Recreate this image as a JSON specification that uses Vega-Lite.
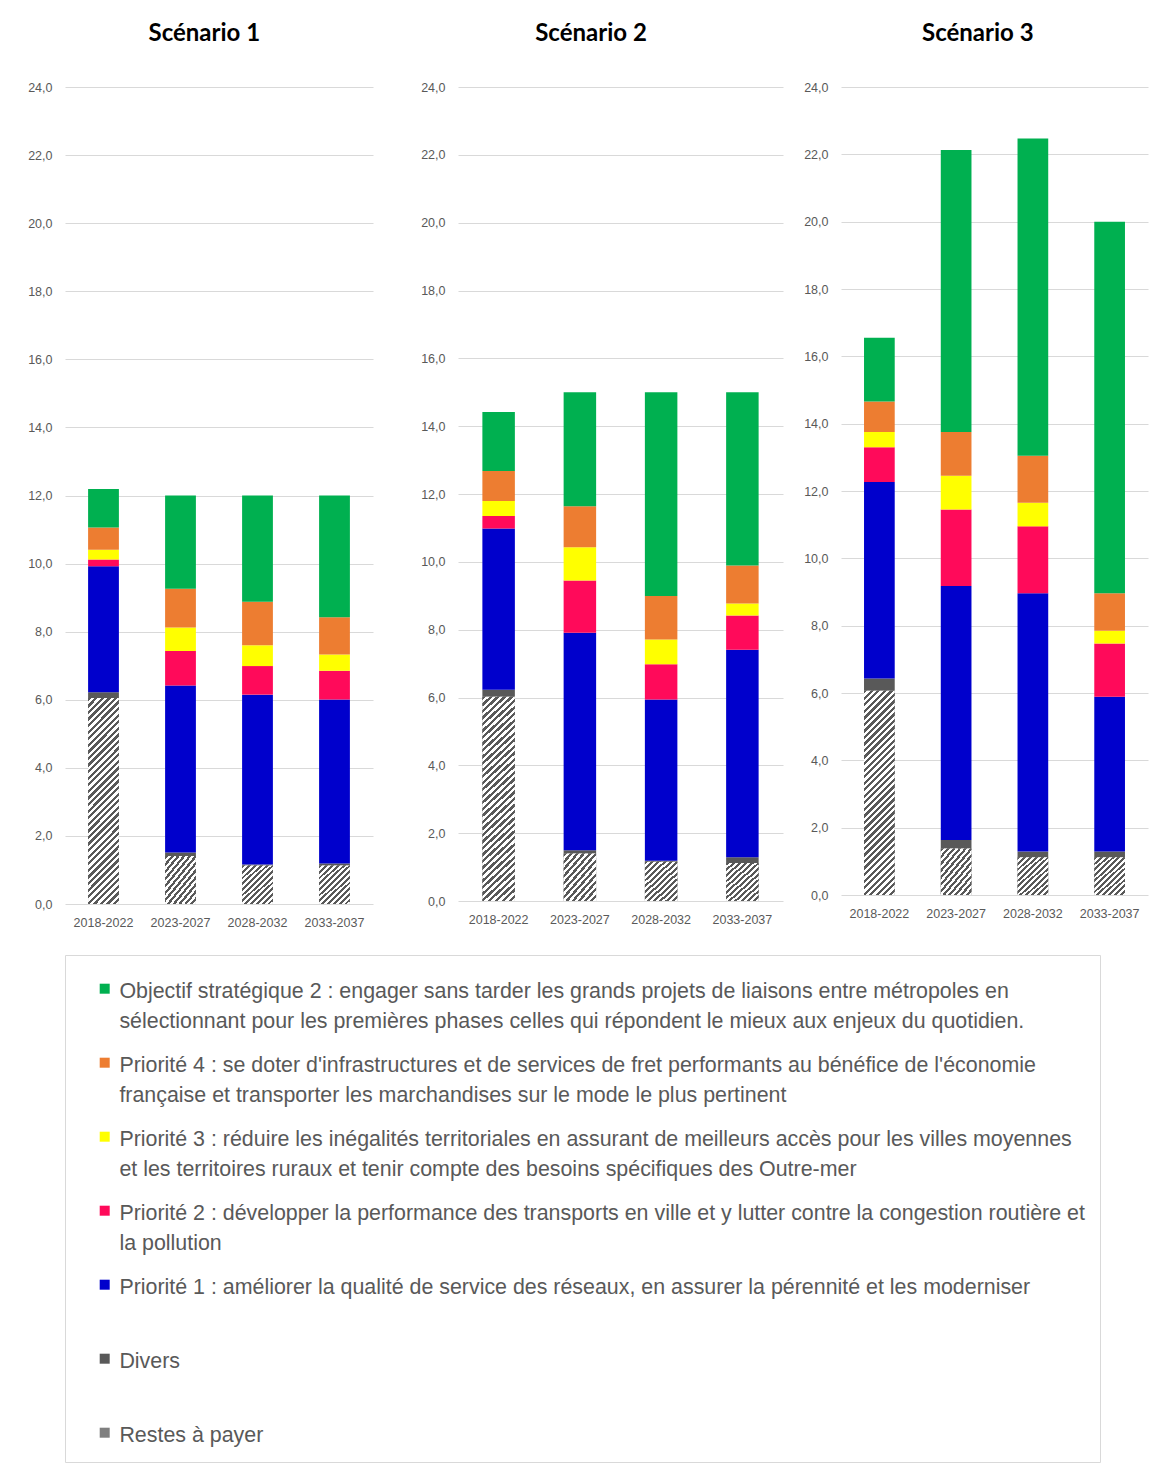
{
  "$schema": "https://vega.github.io/schema/vega-lite/v6.json",
  "background": "#ffffff",
  "padding": {"left": 27, "top": 22, "right": 5, "bottom": 0},
  "params": [
    {"name": "hatchTall", "value": {"gradient": "linear", "x1": 0, "y1": 0, "x2": 0.169, "y2": 1.125, "stops": [
        {"offset": 0, "color": "#595959"}, {"offset": 0.0139, "color": "#595959"}, {"offset": 0.0139, "color": "#ffffff"}, {"offset": 0.0278, "color": "#ffffff"},
        {"offset": 0.0278, "color": "#595959"}, {"offset": 0.0417, "color": "#595959"}, {"offset": 0.0417, "color": "#ffffff"}, {"offset": 0.0556, "color": "#ffffff"},
        {"offset": 0.0556, "color": "#595959"}, {"offset": 0.0694, "color": "#595959"}, {"offset": 0.0694, "color": "#ffffff"}, {"offset": 0.0833, "color": "#ffffff"},
        {"offset": 0.0833, "color": "#595959"}, {"offset": 0.0972, "color": "#595959"}, {"offset": 0.0972, "color": "#ffffff"}, {"offset": 0.1111, "color": "#ffffff"},
        {"offset": 0.1111, "color": "#595959"}, {"offset": 0.125, "color": "#595959"}, {"offset": 0.125, "color": "#ffffff"}, {"offset": 0.1389, "color": "#ffffff"},
        {"offset": 0.1389, "color": "#595959"}, {"offset": 0.1528, "color": "#595959"}, {"offset": 0.1528, "color": "#ffffff"}, {"offset": 0.1667, "color": "#ffffff"},
        {"offset": 0.1667, "color": "#595959"}, {"offset": 0.1806, "color": "#595959"}, {"offset": 0.1806, "color": "#ffffff"}, {"offset": 0.1944, "color": "#ffffff"},
        {"offset": 0.1944, "color": "#595959"}, {"offset": 0.2083, "color": "#595959"}, {"offset": 0.2083, "color": "#ffffff"}, {"offset": 0.2222, "color": "#ffffff"},
        {"offset": 0.2222, "color": "#595959"}, {"offset": 0.2361, "color": "#595959"}, {"offset": 0.2361, "color": "#ffffff"}, {"offset": 0.25, "color": "#ffffff"},
        {"offset": 0.25, "color": "#595959"}, {"offset": 0.2639, "color": "#595959"}, {"offset": 0.2639, "color": "#ffffff"}, {"offset": 0.2778, "color": "#ffffff"},
        {"offset": 0.2778, "color": "#595959"}, {"offset": 0.2917, "color": "#595959"}, {"offset": 0.2917, "color": "#ffffff"}, {"offset": 0.3056, "color": "#ffffff"},
        {"offset": 0.3056, "color": "#595959"}, {"offset": 0.3194, "color": "#595959"}, {"offset": 0.3194, "color": "#ffffff"}, {"offset": 0.3333, "color": "#ffffff"},
        {"offset": 0.3333, "color": "#595959"}, {"offset": 0.3472, "color": "#595959"}, {"offset": 0.3472, "color": "#ffffff"}, {"offset": 0.3611, "color": "#ffffff"},
        {"offset": 0.3611, "color": "#595959"}, {"offset": 0.375, "color": "#595959"}, {"offset": 0.375, "color": "#ffffff"}, {"offset": 0.3889, "color": "#ffffff"},
        {"offset": 0.3889, "color": "#595959"}, {"offset": 0.4028, "color": "#595959"}, {"offset": 0.4028, "color": "#ffffff"}, {"offset": 0.4167, "color": "#ffffff"},
        {"offset": 0.4167, "color": "#595959"}, {"offset": 0.4306, "color": "#595959"}, {"offset": 0.4306, "color": "#ffffff"}, {"offset": 0.4444, "color": "#ffffff"},
        {"offset": 0.4444, "color": "#595959"}, {"offset": 0.4583, "color": "#595959"}, {"offset": 0.4583, "color": "#ffffff"}, {"offset": 0.4722, "color": "#ffffff"},
        {"offset": 0.4722, "color": "#595959"}, {"offset": 0.4861, "color": "#595959"}, {"offset": 0.4861, "color": "#ffffff"}, {"offset": 0.5, "color": "#ffffff"},
        {"offset": 0.5, "color": "#595959"}, {"offset": 0.5139, "color": "#595959"}, {"offset": 0.5139, "color": "#ffffff"}, {"offset": 0.5278, "color": "#ffffff"},
        {"offset": 0.5278, "color": "#595959"}, {"offset": 0.5417, "color": "#595959"}, {"offset": 0.5417, "color": "#ffffff"}, {"offset": 0.5556, "color": "#ffffff"},
        {"offset": 0.5556, "color": "#595959"}, {"offset": 0.5694, "color": "#595959"}, {"offset": 0.5694, "color": "#ffffff"}, {"offset": 0.5833, "color": "#ffffff"},
        {"offset": 0.5833, "color": "#595959"}, {"offset": 0.5972, "color": "#595959"}, {"offset": 0.5972, "color": "#ffffff"}, {"offset": 0.6111, "color": "#ffffff"},
        {"offset": 0.6111, "color": "#595959"}, {"offset": 0.625, "color": "#595959"}, {"offset": 0.625, "color": "#ffffff"}, {"offset": 0.6389, "color": "#ffffff"},
        {"offset": 0.6389, "color": "#595959"}, {"offset": 0.6528, "color": "#595959"}, {"offset": 0.6528, "color": "#ffffff"}, {"offset": 0.6667, "color": "#ffffff"},
        {"offset": 0.6667, "color": "#595959"}, {"offset": 0.6806, "color": "#595959"}, {"offset": 0.6806, "color": "#ffffff"}, {"offset": 0.6944, "color": "#ffffff"},
        {"offset": 0.6944, "color": "#595959"}, {"offset": 0.7083, "color": "#595959"}, {"offset": 0.7083, "color": "#ffffff"}, {"offset": 0.7222, "color": "#ffffff"},
        {"offset": 0.7222, "color": "#595959"}, {"offset": 0.7361, "color": "#595959"}, {"offset": 0.7361, "color": "#ffffff"}, {"offset": 0.75, "color": "#ffffff"},
        {"offset": 0.75, "color": "#595959"}, {"offset": 0.7639, "color": "#595959"}, {"offset": 0.7639, "color": "#ffffff"}, {"offset": 0.7778, "color": "#ffffff"},
        {"offset": 0.7778, "color": "#595959"}, {"offset": 0.7917, "color": "#595959"}, {"offset": 0.7917, "color": "#ffffff"}, {"offset": 0.8056, "color": "#ffffff"},
        {"offset": 0.8056, "color": "#595959"}, {"offset": 0.8194, "color": "#595959"}, {"offset": 0.8194, "color": "#ffffff"}, {"offset": 0.8333, "color": "#ffffff"},
        {"offset": 0.8333, "color": "#595959"}, {"offset": 0.8472, "color": "#595959"}, {"offset": 0.8472, "color": "#ffffff"}, {"offset": 0.8611, "color": "#ffffff"},
        {"offset": 0.8611, "color": "#595959"}, {"offset": 0.875, "color": "#595959"}, {"offset": 0.875, "color": "#ffffff"}, {"offset": 0.8889, "color": "#ffffff"},
        {"offset": 0.8889, "color": "#595959"}, {"offset": 0.9028, "color": "#595959"}, {"offset": 0.9028, "color": "#ffffff"}, {"offset": 0.9167, "color": "#ffffff"},
        {"offset": 0.9167, "color": "#595959"}, {"offset": 0.9306, "color": "#595959"}, {"offset": 0.9306, "color": "#ffffff"}, {"offset": 0.9444, "color": "#ffffff"},
        {"offset": 0.9444, "color": "#595959"}, {"offset": 0.9583, "color": "#595959"}, {"offset": 0.9583, "color": "#ffffff"}, {"offset": 0.9722, "color": "#ffffff"},
        {"offset": 0.9722, "color": "#595959"}, {"offset": 0.9861, "color": "#595959"}, {"offset": 0.9861, "color": "#ffffff"}, {"offset": 1, "color": "#ffffff"}
    ]}},
    {"name": "hatchShort", "value": {"gradient": "linear", "x1": 0, "y1": 0, "x2": 0.859, "y2": 1.109, "stops": [
        {"offset": 0, "color": "#595959"}, {"offset": 0.0417, "color": "#595959"}, {"offset": 0.0417, "color": "#ffffff"}, {"offset": 0.0833, "color": "#ffffff"},
        {"offset": 0.0833, "color": "#595959"}, {"offset": 0.125, "color": "#595959"}, {"offset": 0.125, "color": "#ffffff"}, {"offset": 0.1667, "color": "#ffffff"},
        {"offset": 0.1667, "color": "#595959"}, {"offset": 0.2083, "color": "#595959"}, {"offset": 0.2083, "color": "#ffffff"}, {"offset": 0.25, "color": "#ffffff"},
        {"offset": 0.25, "color": "#595959"}, {"offset": 0.2917, "color": "#595959"}, {"offset": 0.2917, "color": "#ffffff"}, {"offset": 0.3333, "color": "#ffffff"},
        {"offset": 0.3333, "color": "#595959"}, {"offset": 0.375, "color": "#595959"}, {"offset": 0.375, "color": "#ffffff"}, {"offset": 0.4167, "color": "#ffffff"},
        {"offset": 0.4167, "color": "#595959"}, {"offset": 0.4583, "color": "#595959"}, {"offset": 0.4583, "color": "#ffffff"}, {"offset": 0.5, "color": "#ffffff"},
        {"offset": 0.5, "color": "#595959"}, {"offset": 0.5417, "color": "#595959"}, {"offset": 0.5417, "color": "#ffffff"}, {"offset": 0.5833, "color": "#ffffff"},
        {"offset": 0.5833, "color": "#595959"}, {"offset": 0.625, "color": "#595959"}, {"offset": 0.625, "color": "#ffffff"}, {"offset": 0.6667, "color": "#ffffff"},
        {"offset": 0.6667, "color": "#595959"}, {"offset": 0.7083, "color": "#595959"}, {"offset": 0.7083, "color": "#ffffff"}, {"offset": 0.75, "color": "#ffffff"},
        {"offset": 0.75, "color": "#595959"}, {"offset": 0.7917, "color": "#595959"}, {"offset": 0.7917, "color": "#ffffff"}, {"offset": 0.8333, "color": "#ffffff"},
        {"offset": 0.8333, "color": "#595959"}, {"offset": 0.875, "color": "#595959"}, {"offset": 0.875, "color": "#ffffff"}, {"offset": 0.9167, "color": "#ffffff"},
        {"offset": 0.9167, "color": "#595959"}, {"offset": 0.9583, "color": "#595959"}, {"offset": 0.9583, "color": "#ffffff"}, {"offset": 1, "color": "#ffffff"}
    ]}}
  ],
  "datasets": {
    "ordre": [
      {"categorie": "Restes à payer", "rang": 1},
      {"categorie": "Divers", "rang": 2},
      {"categorie": "Priorité 1", "rang": 3},
      {"categorie": "Priorité 2", "rang": 4},
      {"categorie": "Priorité 3", "rang": 5},
      {"categorie": "Priorité 4", "rang": 6},
      {"categorie": "Objectif stratégique 2", "rang": 7}
    ]
  },
  "data": {"values": [
    {"scenario": "Scénario 1", "periode": "2018-2022", "Restes à payer": 6.05, "Divers": 0.17, "Priorité 1": 3.70, "Priorité 2": 0.20, "Priorité 3": 0.29, "Priorité 4": 0.65, "Objectif stratégique 2": 1.13},
    {"scenario": "Scénario 1", "periode": "2023-2027", "Restes à payer": 1.41, "Divers": 0.10, "Priorité 1": 4.91, "Priorité 2": 1.01, "Priorité 3": 0.69, "Priorité 4": 1.14, "Objectif stratégique 2": 2.74},
    {"scenario": "Scénario 1", "periode": "2028-2032", "Restes à payer": 1.13, "Divers": 0.03, "Priorité 1": 4.99, "Priorité 2": 0.84, "Priorité 3": 0.61, "Priorité 4": 1.28, "Objectif stratégique 2": 3.12},
    {"scenario": "Scénario 1", "periode": "2033-2037", "Restes à payer": 1.13, "Divers": 0.06, "Priorité 1": 4.82, "Priorité 2": 0.84, "Priorité 3": 0.48, "Priorité 4": 1.09, "Objectif stratégique 2": 3.58},
    {"scenario": "Scénario 2", "periode": "2018-2022", "Restes à payer": 6.02, "Divers": 0.21, "Priorité 1": 4.75, "Priorité 2": 0.37, "Priorité 3": 0.44, "Priorité 4": 0.89, "Objectif stratégique 2": 1.74},
    {"scenario": "Scénario 2", "periode": "2023-2027", "Restes à payer": 1.40, "Divers": 0.10, "Priorité 1": 6.41, "Priorité 2": 1.54, "Priorité 3": 0.98, "Priorité 4": 1.21, "Objectif stratégique 2": 3.36},
    {"scenario": "Scénario 2", "periode": "2028-2032", "Restes à payer": 1.16, "Divers": 0.03, "Priorité 1": 4.75, "Priorité 2": 1.04, "Priorité 3": 0.73, "Priorité 4": 1.28, "Objectif stratégique 2": 6.01},
    {"scenario": "Scénario 2", "periode": "2033-2037", "Restes à payer": 1.12, "Divers": 0.17, "Priorité 1": 6.12, "Priorité 2": 1.01, "Priorité 3": 0.35, "Priorité 4": 1.12, "Objectif stratégique 2": 5.11},
    {"scenario": "Scénario 3", "periode": "2018-2022", "Restes à payer": 6.07, "Divers": 0.36, "Priorité 1": 5.84, "Priorité 2": 1.03, "Priorité 3": 0.45, "Priorité 4": 0.91, "Objectif stratégique 2": 1.89},
    {"scenario": "Scénario 3", "periode": "2023-2027", "Restes à payer": 1.38, "Divers": 0.25, "Priorité 1": 7.55, "Priorité 2": 2.27, "Priorité 3": 1.00, "Priorité 4": 1.30, "Objectif stratégique 2": 8.38},
    {"scenario": "Scénario 3", "periode": "2028-2032", "Restes à payer": 1.12, "Divers": 0.17, "Priorité 1": 7.67, "Priorité 2": 1.99, "Priorité 3": 0.70, "Priorité 4": 1.40, "Objectif stratégique 2": 9.42},
    {"scenario": "Scénario 3", "periode": "2033-2037", "Restes à payer": 1.12, "Divers": 0.17, "Priorité 1": 4.60, "Priorité 2": 1.58, "Priorité 3": 0.38, "Priorité 4": 1.11, "Objectif stratégique 2": 11.04}
  ]},
  "transform": [
    {"fold": ["Restes à payer", "Divers", "Priorité 1", "Priorité 2", "Priorité 3", "Priorité 4", "Objectif stratégique 2"], "as": ["categorie", "valeur"]},
    {"lookup": "categorie", "from": {"data": {"name": "ordre"}, "key": "categorie", "fields": ["rang"]}}
  ],
  "spacing": 20,
  "hconcat": [
    {
      "width": 308, "height": 817,
      "title": {"text": "Scénario 1", "dx": 4},
      "transform": [{"filter": "datum.scenario == 'Scénario 1'"}],
      "layer": [
        {
          "mark": {"type": "bar"},
          "encoding": {
            "x": {"field": "periode", "type": "nominal", "title": null, "scale": {"paddingInner": 0.6, "paddingOuter": 0.3}, "axis": {"labelAngle": 0, "domain": false, "ticks": false, "tickSize": 0, "labelPadding": 12, "grid": false}},
            "y": {"field": "valeur", "type": "quantitative", "title": null, "scale": {"domain": [0, 24], "nice": false}, "axis": {"values": [0, 2, 4, 6, 8, 10, 12, 14, 16, 18, 20, 22, 24], "labelExpr": "replace(format(datum.value, '.1f'), '.', ',')", "domain": false, "ticks": false, "tickSize": 0, "labelPadding": 13}},
            "order": {"field": "rang", "type": "quantitative", "sort": "ascending"},
            "color": {"field": "categorie", "type": "nominal",
              "scale": {"domain": ["Objectif stratégique 2", "Priorité 4", "Priorité 3", "Priorité 2", "Priorité 1", "Divers", "Restes à payer"], "range": ["#00b050", "#ed7d31", "#ffff00", "#ff0a5a", "#0000cc", "#595959", "#7f7f7f"]},
              "legend": {"orient": "bottom", "direction": "vertical", "columns": 1, "gridAlign": "all", "title": null, "offset": 26, "padding": 15, "strokeColor": "#d9d9d9", "fillColor": "#ffffff", "symbolOffset": 14, "symbolType": "M-1,0.6H1V2.6H-1Z", "symbolSize": 100, "symbolStrokeWidth": 0, "labelOffset": 4, "rowPadding": 11, "labelFont": "Liberation Sans", "labelFontSize": 21.4, "labelColor": "#595959", "labelLimit": 1200, "labelBaseline": "top",
                "labelExpr": "datum.label == 'Objectif stratégique 2' ? ['Objectif stratégique 2 : engager sans tarder les grands projets de liaisons entre métropoles en', 'sélectionnant pour les premières phases celles qui répondent le mieux aux enjeux du quotidien.'] : datum.label == 'Priorité 4' ? [\"Priorité 4 : se doter d'infrastructures et de services de fret performants au bénéfice de l'économie\", 'française et transporter les marchandises sur le mode le plus pertinent'] : datum.label == 'Priorité 3' ? ['Priorité 3 : réduire les inégalités territoriales en assurant de meilleurs accès pour les villes moyennes', 'et les territoires ruraux et tenir compte des besoins spécifiques des Outre-mer'] : datum.label == 'Priorité 2' ? ['Priorité 2 : développer la performance des transports en ville et y lutter contre la congestion routière et', 'la pollution'] : datum.label == 'Priorité 1' ? 'Priorité 1 : améliorer la qualité de service des réseaux, en assurer la pérennité et les moderniser' : datum.label"}
            }
          }
        },
        {
          "transform": [{"filter": "datum.categorie == 'Restes à payer' && datum.valeur > 3"}],
          "mark": {"type": "bar", "fill": {"expr": "hatchTall"}},
          "encoding": {"x": {"field": "periode", "type": "nominal", "title": null}, "y": {"field": "valeur", "type": "quantitative", "title": null}}
        },
        {
          "transform": [{"filter": "datum.categorie == 'Restes à payer' && datum.valeur <= 3"}],
          "mark": {"type": "bar", "fill": {"expr": "hatchShort"}},
          "encoding": {"x": {"field": "periode", "type": "nominal", "title": null}, "y": {"field": "valeur", "type": "quantitative", "title": null}}
        }
      ]
    },
    {
      "width": 325, "height": 814,
      "title": {"text": "Scénario 2", "dx": 3},
      "transform": [{"filter": "datum.scenario == 'Scénario 2'"}],
      "layer": [
        {
          "mark": {"type": "bar"},
          "encoding": {
            "x": {"field": "periode", "type": "nominal", "title": null, "scale": {"paddingInner": 0.6, "paddingOuter": 0.3}, "axis": {"labelAngle": 0, "domain": false, "ticks": false, "tickSize": 0, "labelPadding": 12, "grid": false}},
            "y": {"field": "valeur", "type": "quantitative", "title": null, "scale": {"domain": [0, 24], "nice": false}, "axis": {"values": [0, 2, 4, 6, 8, 10, 12, 14, 16, 18, 20, 22, 24], "labelExpr": "replace(format(datum.value, '.1f'), '.', ',')", "domain": false, "ticks": false, "tickSize": 0, "labelPadding": 13, "minExtent": 65}},
            "order": {"field": "rang", "type": "quantitative", "sort": "ascending"},
            "color": {"field": "categorie", "type": "nominal",
              "scale": {"domain": ["Objectif stratégique 2", "Priorité 4", "Priorité 3", "Priorité 2", "Priorité 1", "Divers", "Restes à payer"], "range": ["#00b050", "#ed7d31", "#ffff00", "#ff0a5a", "#0000cc", "#595959", "#7f7f7f"]}
            }
          }
        },
        {
          "transform": [{"filter": "datum.categorie == 'Restes à payer' && datum.valeur > 3"}],
          "mark": {"type": "bar", "fill": {"expr": "hatchTall"}},
          "encoding": {"x": {"field": "periode", "type": "nominal", "title": null}, "y": {"field": "valeur", "type": "quantitative", "title": null}}
        },
        {
          "transform": [{"filter": "datum.categorie == 'Restes à payer' && datum.valeur <= 3"}],
          "mark": {"type": "bar", "fill": {"expr": "hatchShort"}},
          "encoding": {"x": {"field": "periode", "type": "nominal", "title": null}, "y": {"field": "valeur", "type": "quantitative", "title": null}}
        }
      ]
    },
    {
      "width": 307, "height": 808,
      "title": {"text": "Scénario 3", "dx": 2},
      "transform": [{"filter": "datum.scenario == 'Scénario 3'"}],
      "layer": [
        {
          "mark": {"type": "bar"},
          "encoding": {
            "x": {"field": "periode", "type": "nominal", "title": null, "scale": {"paddingInner": 0.6, "paddingOuter": 0.3}, "axis": {"labelAngle": 0, "domain": false, "ticks": false, "tickSize": 0, "labelPadding": 12, "grid": false}},
            "y": {"field": "valeur", "type": "quantitative", "title": null, "scale": {"domain": [0, 24], "nice": false}, "axis": {"values": [0, 2, 4, 6, 8, 10, 12, 14, 16, 18, 20, 22, 24], "labelExpr": "replace(format(datum.value, '.1f'), '.', ',')", "domain": false, "ticks": false, "tickSize": 0, "labelPadding": 13}},
            "order": {"field": "rang", "type": "quantitative", "sort": "ascending"},
            "color": {"field": "categorie", "type": "nominal",
              "scale": {"domain": ["Objectif stratégique 2", "Priorité 4", "Priorité 3", "Priorité 2", "Priorité 1", "Divers", "Restes à payer"], "range": ["#00b050", "#ed7d31", "#ffff00", "#ff0a5a", "#0000cc", "#595959", "#7f7f7f"]}
            }
          }
        },
        {
          "transform": [{"filter": "datum.categorie == 'Restes à payer' && datum.valeur > 3"}],
          "mark": {"type": "bar", "fill": {"expr": "hatchTall"}},
          "encoding": {"x": {"field": "periode", "type": "nominal", "title": null}, "y": {"field": "valeur", "type": "quantitative", "title": null}}
        },
        {
          "transform": [{"filter": "datum.categorie == 'Restes à payer' && datum.valeur <= 3"}],
          "mark": {"type": "bar", "fill": {"expr": "hatchShort"}},
          "encoding": {"x": {"field": "periode", "type": "nominal", "title": null}, "y": {"field": "valeur", "type": "quantitative", "title": null}}
        }
      ]
    }
  ],
  "config": {
    "view": {"stroke": null},
    "font": "Liberation Sans",
    "title": {"font": "Lato", "fontSize": 24, "fontWeight": "bold", "color": "#000000", "baseline": "alphabetic", "offset": 35, "anchor": "middle", "frame": "bounds"},
    "axis": {"labelFont": "Liberation Sans", "labelFontSize": 12.5, "labelColor": "#595959", "gridColor": "#d9d9d9", "gridWidth": 1},
    "bar": {"stroke": null},
    "style": {"guide-label": {"lineHeight": 30}}
  }
}
